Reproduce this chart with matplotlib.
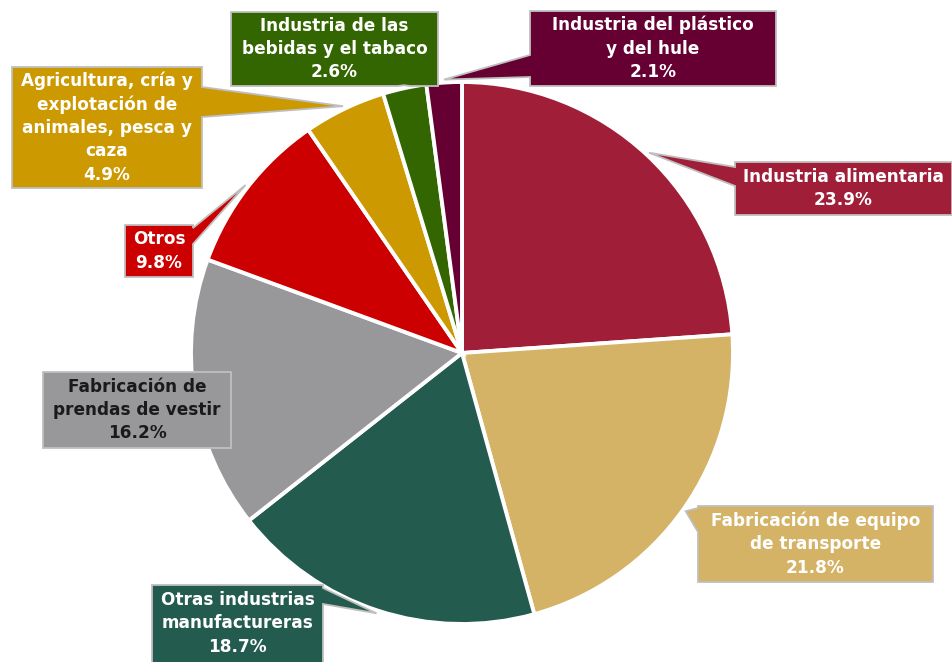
import numpy as np
import matplotlib
matplotlib.use("Agg")
import matplotlib.pyplot as plt
from matplotlib.patches import Polygon

# ---- data ----
labels = [
    "Industria alimentaria",
    "Fabricación de equipo\nde transporte",
    "Otras industrias\nmanufactureras",
    "Fabricación de\nprendas de vestir",
    "Otros",
    "Agricultura, cría y\nexplotación de\nanimales, pesca y\ncaza",
    "Industria de las\nbebidas y el tabaco",
    "Industria del plástico\ny del hule",
]
values = [23.9, 21.8, 18.7, 16.2, 9.8, 4.9, 2.6, 2.1]
colors = ["#A01E38", "#D4B266", "#235B4E", "#98989A",
          "#CC0000", "#CC9900", "#336600", "#660033"]
text_colors = ["white", "white", "white", "#1a1a1a",
               "white", "white", "white", "white"]

# ---- layout (pixel coords, y down) ----
W, H = 953, 662
cx, cy, R = 462, 353, 271
# box: x0, y0, x1, y1 ; side for pointer ; base range on that side
boxes = [
    ((735, 162, 952, 215), "left", (167, 186)),
    ((698, 506, 933, 582), "left", (508, 532)),
    ((152, 585, 323, 664), "right", (588, 604)),
    ((43, 372, 231, 448), None, None),
    ((125, 225, 193, 277), "right", (228, 244)),
    ((12, 67, 202, 188), "right", (87, 117)),
    ((231, 12, 438, 86), "bottom", (398, 410)),
    ((530, 11, 776, 86), "left", (55, 77)),
]

fig = plt.figure(figsize=(W / 100, H / 100), dpi=100)
ax = fig.add_axes([0, 0, 1, 1])

ax.pie(values, colors=colors, startangle=90, counterclock=False,
       center=(cx, H - cy), radius=R,
       wedgeprops=dict(edgecolor="white", linewidth=2.8))
ax.set_xlim(0, W)
ax.set_ylim(0, H)
ax.set_aspect("equal")
ax.axis("off")

total = sum(values)
start = 90.0
for i, v in enumerate(values):
    span = 360.0 * v / total
    mid = np.deg2rad(start - span / 2)
    start -= span
    tx = cx + (R + 3) * np.cos(mid)
    ty = cy - (R + 3) * np.sin(mid)
    (x0, y0, x1, y1), side, base = boxes[i]
    pts = [(x0, y0), (x1, y0)]
    if side == "right":
        a, b = base
        pts += [(x1, a), (tx, ty), (x1, b)]
    pts += [(x1, y1)]
    if side == "bottom":
        a, b = base
        pts += [(b, y1), (tx, ty), (a, y1)]
    pts += [(x0, y1)]
    if side == "left":
        a, b = base
        pts += [(x0, b), (tx, ty), (x0, a)]
    pts_up = [(px, H - py) for px, py in pts]
    ax.add_patch(Polygon(pts_up, closed=True, facecolor=colors[i],
                         edgecolor="#BFBFBF", linewidth=1.3, zorder=3,
                         joinstyle="miter"))
    ycen = (y0 + min(y1, H)) / 2
    ax.text((x0 + x1) / 2, H - ycen,
            f"{labels[i]}\n{v:.1f}%", ha="center", va="center",
            color=text_colors[i], fontsize=12.2, fontweight="bold",
            family="DejaVu Sans", linespacing=1.38, zorder=4)

fig.savefig("out.png", dpi=100)
